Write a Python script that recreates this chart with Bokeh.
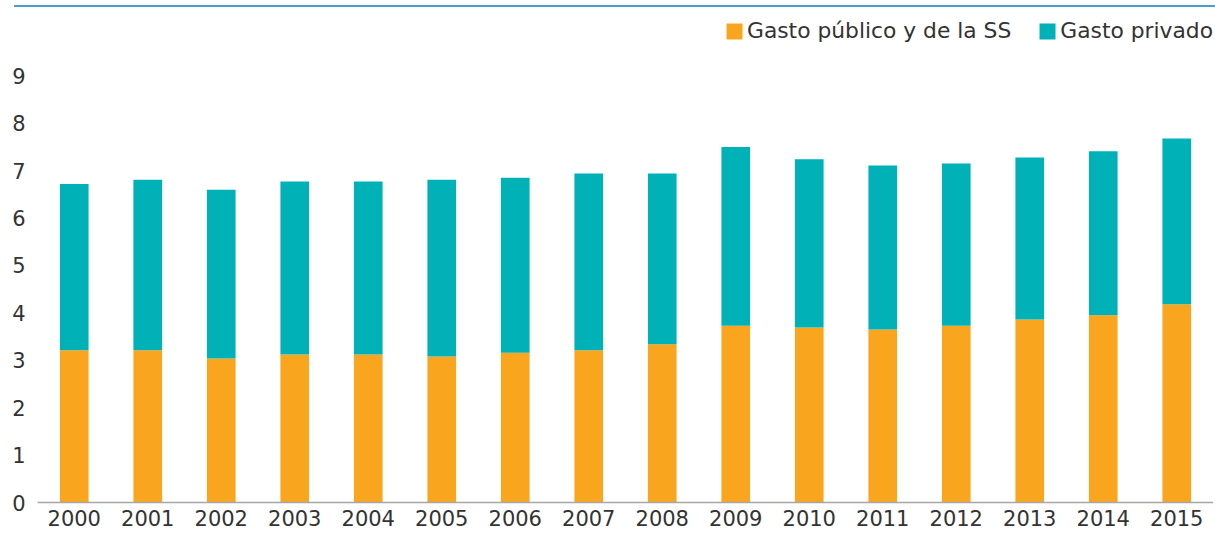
from bokeh.plotting import figure
from bokeh.models import ColumnDataSource, FactorRange, Range1d, FixedTicker, Div
from bokeh.layouts import column
from bokeh.embed import file_html
from bokeh.resources import INLINE

years = [str(y) for y in range(2000, 2016)]
publico = [3.21, 3.21, 3.04, 3.12, 3.12, 3.08, 3.16, 3.21, 3.34, 3.73, 3.69, 3.65, 3.73, 3.86, 3.95, 4.18]
privado = [3.51, 3.60, 3.56, 3.65, 3.65, 3.73, 3.69, 3.73, 3.60, 3.77, 3.55, 3.46, 3.42, 3.42, 3.46, 3.50]
series = ["Gasto público y de la SS", "Gasto privado"]
colors = ["#F9A61E", "#00B1B7"]
y_ticks = [0, 1, 2, 3, 4, 5, 6, 7, 8, 9]

FONT = "DejaVu Sans"
TXT = "#333333"

src = ColumnDataSource(dict(year=years, publico=publico, privado=privado))

p = figure(
    x_range=FactorRange(factors=years, range_padding=0),
    y_range=Range1d(0, 10.21),
    width=1213, height=522,
    output_backend="svg", toolbar_location=None,
    min_border_left=37, min_border_right=0, min_border_top=6, min_border_bottom=32,
)
p.vbar_stack(["publico", "privado"], x="year", width=0.39, color=colors,
             line_color=None, source=src, legend_label=series)

p.xgrid.grid_line_color = None
p.ygrid.grid_line_color = None
p.outline_line_color = None
p.background_fill_color = "white"
p.border_fill_color = "white"

xa = p.xaxis[0]
xa.axis_line_color = "#A6A6A6"
xa.axis_line_width = 1.5
xa.major_tick_line_color = None
xa.major_tick_out = 0
xa.major_tick_in = 0
xa.minor_tick_line_color = None
xa.major_label_text_font = FONT
xa.major_label_text_font_size = "21px"
xa.major_label_text_color = TXT
xa.major_label_standoff = 7

ya = p.yaxis[0]
ya.ticker = FixedTicker(ticks=y_ticks)
ya.axis_line_color = None
ya.major_tick_line_color = None
ya.major_tick_out = 0
ya.major_tick_in = 0
ya.minor_tick_line_color = None
ya.major_label_text_font = FONT
ya.major_label_text_font_size = "21px"
ya.major_label_text_color = TXT
ya.major_label_standoff = 12

lg = p.legend[0]
lg.location = "top_right"
lg.orientation = "horizontal"
lg.label_text_font = FONT
lg.label_text_font_size = "21.8px"
lg.label_text_color = TXT
lg.glyph_width = 20
lg.glyph_height = 20
lg.label_standoff = 3
lg.spacing = 26
lg.padding = 0
lg.margin = 0
lg.border_line_color = None
lg.background_fill_alpha = 0

rule = Div(width=1213, height=2,
           styles={"background": "linear-gradient(to right, #ffffff 9px, #4B9FC2 9px)"})

layout = column(rule, p, spacing=0)
open("out.html", "w").write(file_html(layout, INLINE))
